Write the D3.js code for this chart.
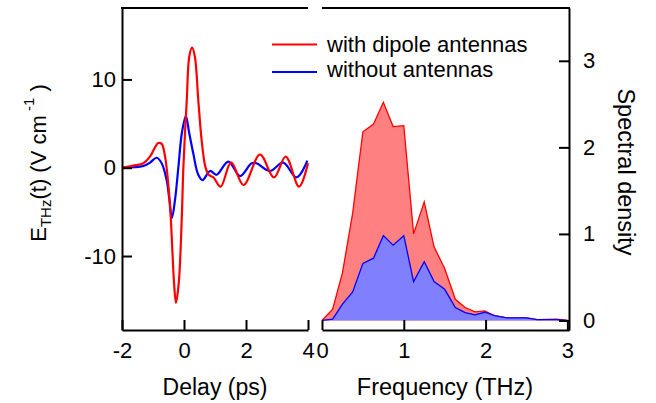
<!DOCTYPE html>
<html>
<head>
<meta charset="utf-8">
<script src="https://cdn.jsdelivr.net/npm/d3@7"></script>
<style>
  body { margin: 0; background: #fff; }
  text { font-family: "Liberation Sans", Arial, Helvetica, sans-serif; fill: #000; }
  .axis path, .axis line { stroke: #000; stroke-width: 2; }
  .axis text { font-size: 22px; font-family: "Liberation Sans", Arial, sans-serif; }
</style>
</head>
<body>
<script>
// time-domain waveform, with dipole antennas (delay in ps, field in V/cm)
var redT = [-2, -1.64, -1.31, -1.10, -0.83, -0.72, -0.61, -0.50, -0.43, -0.32, -0.26, -0.17, -0.07, -0.02,
            0.09, 0.17, 0.26, 0.35, 0.46, 0.57, 0.69, 0.80, 0.95, 1.18, 1.52, 1.92, 2.45, 2.90, 3.28, 3.71, 4.0];
var redE = [0, 0.23, 0.5, 1.25, 2.8, 2.7, 1.25, -2.15, -5.5, -13.1, -15.3, -13.1, -5.5, 0.1,
            7.7, 12.6, 13.6, 12.6, 7.7, 3.1, 0.1, -0.8, -1.1, -2.15, 0.6, -1.96, 1.5, -1.1, 1.25, -2.15, 0.5];

// time-domain waveform, without antennas
var blueT = [-2, -1.31, -1.10, -0.88, -0.72, -0.56, -0.47, -0.39, -0.29, -0.18, -0.07, 0.06, 0.17,
             0.30, 0.46, 0.60, 0.84, 1.05, 1.43, 1.81, 2.18, 2.34, 2.77, 3.20, 3.63, 3.98];
var blueE = [0, 0.2, 0.57, 1.13, 0.5, -1.4, -3.65, -5.7, -3.65, 0.1, 3.9, 5.85, 3.9,
             1.6, -0.8, -1.4, -0.37, -0.8, 0.7, -0.95, 0.5, 0.5, -0.37, 0.57, -1.1, 0.8];

// spectra (frequency in THz)
var freq  = [0, 0.13, 0.25, 0.375, 0.50, 0.63, 0.75, 0.87, 1.0, 1.12, 1.25, 1.37, 1.50, 1.63,
             1.75, 1.87, 1.99, 2.11, 2.26, 2.50, 2.63, 2.87, 3.0];
var redS  = [0, 0.13, 0.55, 1.24, 2.18, 2.27, 2.52, 2.24, 2.25, 1.0, 1.37, 0.85, 0.60, 0.245,
             0.15, 0.10, 0.11, 0.055, 0.03, 0.03, 0.01, 0.015, 0];
var blueS = [0, 0.015, 0.19, 0.33, 0.66, 0.72, 0.98, 0.87, 0.98, 0.45, 0.68, 0.45, 0.36, 0.15,
             0.09, 0.065, 0.095, 0.055, 0.03, 0.03, 0.01, 0.01, 0];

var timeTicks = [-2, 0, 2, 4];
var fieldTicks = [-10, 0, 10];
var freqTicks = [0, 1, 2, 3];
var densTicks = [0, 1, 2, 3];

var legendItems = [
    { label: "with dipole antennas", color: "#ff0000" },
    { label: "without antennas", color: "#0000ff" }
];

var width = 656, height = 403;

var svg = d3.select("body")
    .append("svg")
    .attr("width", width)
    .attr("height", height);

// plain integer labels with a hyphen minus
var fmt = function (d) { return String(d); };

// scales
var xT = d3.scaleLinear().domain([-2, 4]).range([122, 308]);
var yE = d3.scaleLinear().domain([-18.38, 18.09]).range([330, 8]);
var xF = d3.scaleLinear().domain([0, 3.02]).range([322, 569]);
var yS = d3.scaleLinear().domain([-0.11, 3.61]).range([330, 8]);

// spectra fills
var redPts = freq.map(function (f, i) { return [f, redS[i]]; });
var bluePts = freq.map(function (f, i) { return [f, blueS[i]]; });

var area = d3.area()
    .x(function (d) { return xF(d[0]); })
    .y0(yS(0))
    .y1(function (d) { return yS(d[1]); });
var sLine = d3.line()
    .x(function (d) { return xF(d[0]); })
    .y(function (d) { return yS(d[1]); });

svg.append("path").attr("d", area(redPts)).attr("fill", "#ff8080");
svg.append("path").attr("d", sLine(redPts)).attr("fill", "none").attr("stroke", "#ff0000").attr("stroke-width", 1.3);
svg.append("path").attr("d", area(bluePts)).attr("fill", "#8080ff");
svg.append("path").attr("d", sLine(bluePts)).attr("fill", "none").attr("stroke", "#0000ff").attr("stroke-width", 1.3);

// waveforms
var tLine = d3.line()
    .curve(d3.curveCatmullRom.alpha(0.5))
    .x(function (d) { return xT(d[0]); })
    .y(function (d) { return yE(d[1]); });

svg.append("path")
    .attr("d", tLine(blueT.map(function (t, i) { return [t, blueE[i]]; })))
    .attr("fill", "none").attr("stroke", "#0000ff").attr("stroke-width", 2.2);
svg.append("path")
    .attr("d", tLine(redT.map(function (t, i) { return [t, redE[i]]; })))
    .attr("fill", "none").attr("stroke", "#ff0000").attr("stroke-width", 2.2);

// axes
svg.append("g")
    .attr("class", "axis")
    .attr("transform", "translate(0,330)")
    .call(d3.axisBottom(xT).tickValues(timeTicks).tickFormat(fmt)
        .tickSizeInner(-10).tickSizeOuter(0).tickPadding(12));

svg.append("g")
    .attr("class", "axis")
    .attr("transform", "translate(122,0)")
    .call(d3.axisLeft(yE).tickValues(fieldTicks).tickFormat(fmt)
        .tickSizeInner(-10).tickSizeOuter(0).tickPadding(6));

svg.append("g")
    .attr("class", "axis")
    .attr("transform", "translate(0,330)")
    .call(d3.axisBottom(xF).tickValues(freqTicks).tickFormat(fmt)
        .tickSizeInner(-10).tickSizeOuter(0).tickPadding(12));

svg.append("g")
    .attr("class", "axis")
    .attr("transform", "translate(569,0)")
    .call(d3.axisRight(yS).tickValues(densTicks).tickFormat(fmt)
        .tickSizeInner(-10).tickSizeOuter(0).tickPadding(14));

// top frame lines
svg.append("line").attr("x1", 121).attr("x2", 308).attr("y1", 8).attr("y2", 8)
    .attr("stroke", "#000").attr("stroke-width", 2);
svg.append("line").attr("x1", 322).attr("x2", 570).attr("y1", 8).attr("y2", 8)
    .attr("stroke", "#000").attr("stroke-width", 2);

// legend
var legend = svg.append("g");
legendItems.forEach(function (d, i) {
    var y = i === 0 ? 44.5 : 72;
    legend.append("line")
        .attr("x1", 272).attr("x2", 317)
        .attr("y1", y).attr("y2", y)
        .attr("stroke", d.color).attr("stroke-width", 2);
    legend.append("text")
        .attr("x", 327)
        .attr("y", i === 0 ? 52 : 77)
        .style("font-size", "22px")
        .text(d.label);
});

// axis titles
svg.append("text")
    .attr("x", 215).attr("y", 395)
    .attr("text-anchor", "middle")
    .style("font-size", "23px")
    .text("Delay (ps)");

svg.append("text")
    .attr("x", 445).attr("y", 395)
    .attr("text-anchor", "middle")
    .style("font-size", "23.5px")
    .text("Frequency (THz)");

var yTitle = svg.append("text")
    .attr("transform", "translate(46,163) rotate(-90)")
    .attr("text-anchor", "middle")
    .style("font-size", "22px");
yTitle.append("tspan").text("E");
yTitle.append("tspan").attr("dy", 5).style("font-size", "15px").text("THz");
yTitle.append("tspan").attr("dy", -5).text("(t) (V cm");
yTitle.append("tspan").attr("dy", -12).style("font-size", "15px").text(" -1");
yTitle.append("tspan").attr("dy", 12).text(" )");

svg.append("text")
    .attr("transform", "translate(618,172) rotate(90)")
    .attr("text-anchor", "middle")
    .style("font-size", "23.5px")
    .text("Spectral density");
</script>
</body>
</html>
